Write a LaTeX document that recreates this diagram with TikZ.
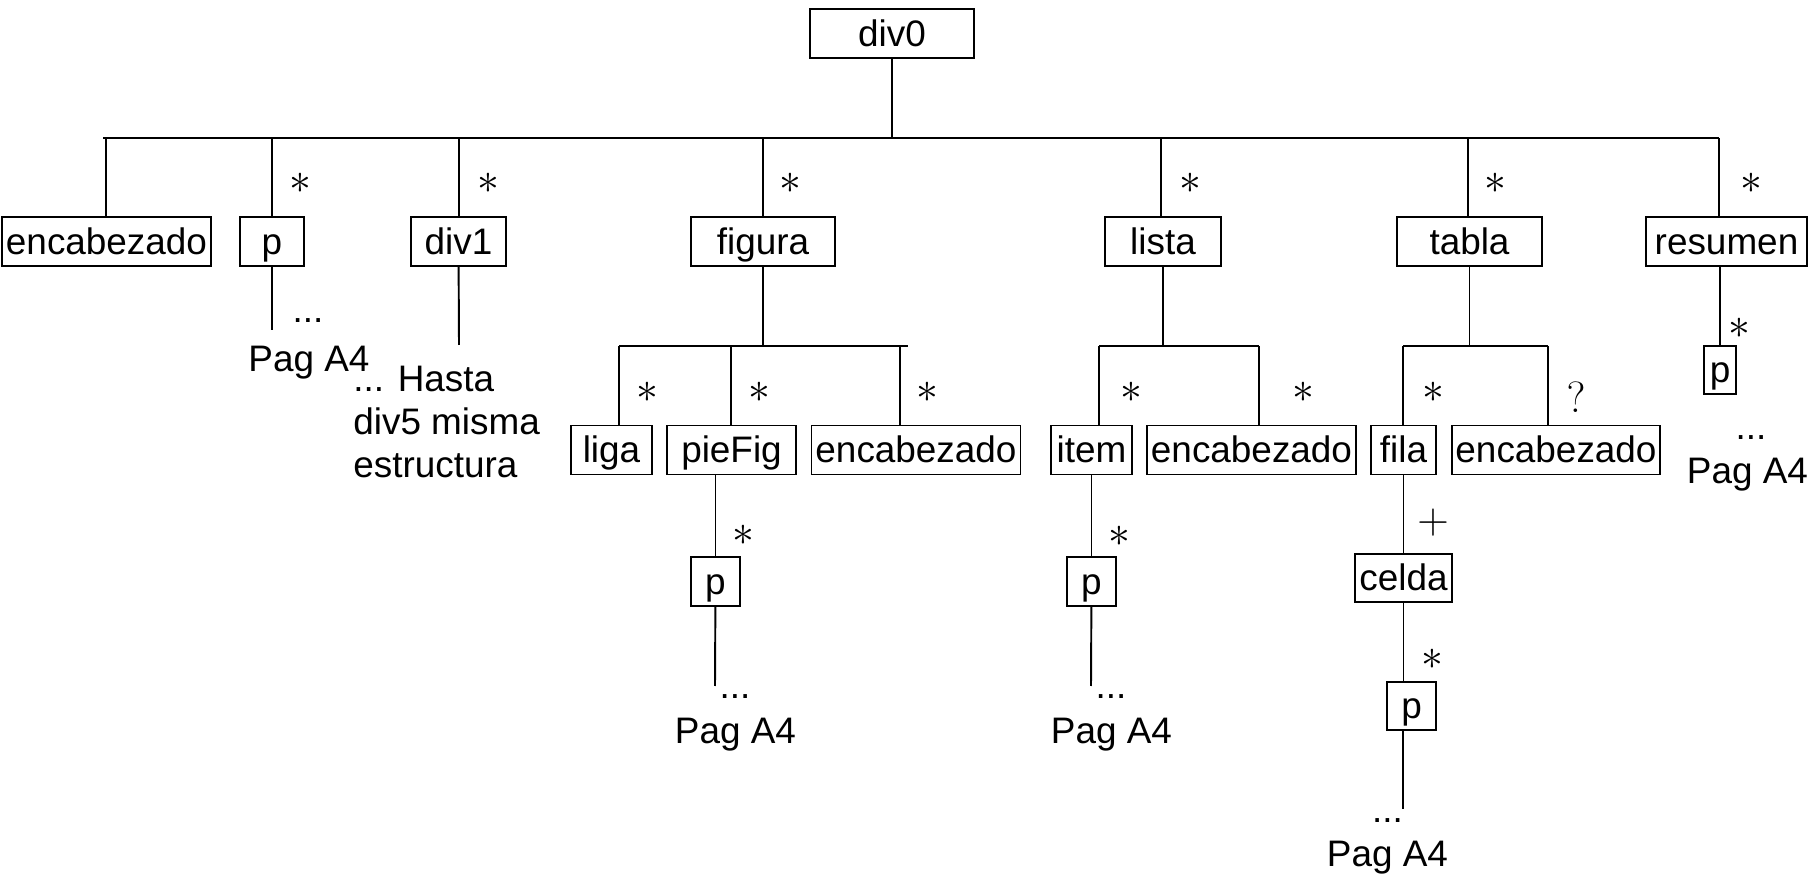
\documentclass[tikz,border=0pt]{standalone}
\usepackage{fontspec}
\setmainfont{Liberation Sans}
\usetikzlibrary{positioning,calc}

\begin{document}
\begin{tikzpicture}[x=0.02cm, y=-0.02cm,
        tag block/.style={rectangle, draw, line width=0.9pt, inner sep=0pt, minimum height=0.98cm, text height=0.6cm, text depth=0.08cm, font=\fontsize{21}{24}\selectfont},
        line/.style={draw, line width=1.1pt},
        mult/.style={inner sep=0pt, font=\fontsize{24}{26}\selectfont},
        note/.style={anchor=base, inner sep=0pt, font=\fontsize{21}{24.4}\selectfont}]
        \useasboundingbox (0,0) rectangle (1810,874);

        \node [tag block, minimum width=3.28cm] (div0) at (892,33.5) {div0};

        \node [tag block, minimum width=4.18cm] (enc1) at (106.5,241.5) {encabezado};
        \node [tag block, minimum width=1.28cm] (p1) at (272,241.5) {p};
        \node [tag block, minimum width=1.9cm] (div1) at (458.5,241.5) {div1};
        \node [tag block, minimum width=2.88cm] (figura) at (763,241.5) {figura};
        \node [tag block, minimum width=2.32cm] (lista) at (1163,241.5) {lista};
        \node [tag block, minimum width=2.9cm] (tabla) at (1469.5,241.5) {tabla};
        \node [tag block, minimum width=3.22cm] (resumen) at (1726.5,241.5) {resumen};

        \node [tag block, minimum width=1.62cm] (liga) at (611.5,450) {liga};
        \node [tag block, minimum width=2.58cm] (piefig) at (731.5,450) {pieFig};
        \node [tag block, minimum width=4.18cm] (enc2) at (916,450) {encabezado};
        \node [tag block, minimum width=1.62cm] (item) at (1091.5,450) {item};
        \node [tag block, minimum width=4.18cm] (enc3) at (1251.5,450) {encabezado};
        \node [tag block, minimum width=1.3cm] (fila) at (1403.5,450) {fila};
        \node [tag block, minimum width=4.16cm] (enc4) at (1556,450) {encabezado};

        \node [tag block, minimum width=0.98cm] (pfig) at (715.5,581.5) {p};
        \node [tag block, minimum width=0.98cm] (pitem) at (1091.5,581.5) {p};
        \node [tag block, minimum width=1.94cm, minimum height=0.96cm] (celda) at (1403.5,578) {celda};
        \node [tag block, minimum width=0.98cm, minimum height=0.96cm] (pcelda) at (1411.5,706) {p};
        \node [tag block, minimum width=0.64cm, minimum height=0.96cm] (pres) at (1720,370) {p};

        \coordinate (barL) at (103,138);
        \coordinate (barR) at (1719,138);
        \coordinate (b-enc1) at (106,138);
        \coordinate (b-p1) at (272,138);
        \coordinate (b-div1) at (459,138);
        \coordinate (b-figura) at (763,138);
        \coordinate (b-lista) at (1161,138);
        \coordinate (b-tabla) at (1468,138);
        \coordinate (b-resumen) at (1719,138);
        \path [line] (div0) -- (div0 |- barL);
        \path [line] (barL) -- (barR);
        \path [line] (b-enc1) -- (b-enc1 |- enc1.north);
        \path [line] (b-p1) -- (b-p1 |- p1.north);
        \path [line] (b-div1) -- (b-div1 |- div1.north);
        \path [line] (b-figura) -- (b-figura |- figura.north);
        \path [line] (b-lista) -- (b-lista |- lista.north);
        \path [line] (b-tabla) -- (b-tabla |- tabla.north);
        \path [line] (b-resumen) -- (b-resumen |- resumen.north);

        \coordinate (figL) at (619,346);
        \coordinate (figR) at (908,346);
        \coordinate (b-piefig) at (731,346);
        \coordinate (b-enc2) at (900,346);
        \path [line] (figura) -- (figura |- figL);
        \path [line] (figL) -- (figR);
        \path [line] (figL) -- (figL |- liga.north);
        \path [line] (b-piefig) -- (b-piefig |- piefig.north);
        \path [line] (b-enc2) -- (b-enc2 |- enc2.north);

        \coordinate (listL) at (1099,346);
        \coordinate (listR) at (1259,346);
        \path [line] (lista) -- (lista |- listL);
        \path [line] (listL) -- (listR);
        \path [line] (listL) -- (listL |- item.north);
        \path [line] (listR) -- (listR |- enc3.north);

        \coordinate (tabL) at (1403,346);
        \coordinate (tabR) at (1548,346);
        \path [line] (tabla) -- (tabla |- tabL);
        \path [line] (tabL) -- (tabR);
        \path [line] (tabL) -- (tabL |- fila.north);
        \path [line] (tabR) -- (tabR |- enc4.north);

        \coordinate (end-p1) at (272,330);
        \coordinate (end-div1) at (459,345);
        \coordinate (end-pfig) at (715,686);
        \coordinate (end-pitem) at (1091,686);
        \coordinate (end-pcelda) at (1403,809);
        \path [line] (p1) -- (end-p1);
        \path [line] (div1) -- (end-div1);
        \path [line] (pfig) -- (pfig |- piefig.south);
        \path [line] (pfig) -- (end-pfig);
        \path [line] (pitem) -- (pitem |- item.south);
        \path [line] (pitem) -- (end-pitem);
        \path [line] (fila) -- (celda);
        \path [line] (celda) -- (celda |- pcelda.north);
        \path [line] (end-pcelda |- pcelda.south) -- (end-pcelda);
        \path [line] (pres) -- (pres |- resumen.south);

        \node [mult] (m-p1) at (300,183) {$\ast$};
        \node [mult] (m-div1) at (488,183) {$\ast$};
        \node [mult] (m-figura) at (790,183) {$\ast$};
        \node [mult] (m-lista) at (1190,183) {$\ast$};
        \node [mult] (m-tabla) at (1495,183) {$\ast$};
        \node [mult] (m-resumen) at (1751,183) {$\ast$};
        \node [mult] (m-liga) at (647,392) {$\ast$};
        \node [mult] (m-piefig) at (759,392) {$\ast$};
        \node [mult] (m-enc2) at (927,392) {$\ast$};
        \node [mult] (m-item) at (1131,392) {$\ast$};
        \node [mult] (m-enc3) at (1303,392) {$\ast$};
        \node [mult] (m-fila) at (1433,392) {$\ast$};
        \node [mult] (m-enc4) at (1576,397) {$?$};
        \node [mult] (m-pfig) at (743,535) {$\ast$};
        \node [mult] (m-pitem) at (1119,536) {$\ast$};
        \node [mult] (m-celda) at (1433,523) {$+$};
        \node [mult] (m-pcelda) at (1432,659) {$\ast$};
        \node [mult] (m-pres) at (1739,328) {$\ast$};

        \node [note] (dots-p1) at (308,323) {...};
        \node [note] (pag-p1) at (309,372) {Pag A4};
        \node [note, anchor=north west, align=left] (hasta) at (353,366) {... Hasta\\div5 misma\\estructura};
        \node [note] (dots-pfig) at (735,699) {...};
        \node [note] (pag-pfig) at (735.5,744) {Pag A4};
        \node [note] (dots-pitem) at (1111,699) {...};
        \node [note] (pag-pitem) at (1111.5,744) {Pag A4};
        \node [note] (dots-pcelda) at (1387.5,823) {...};
        \node [note] (pag-pcelda) at (1387.5,867) {Pag A4};
        \node [note] (dots-pres) at (1751,440) {...};
        \node [note] (pag-pres) at (1747.5,484) {Pag A4};
    \end{tikzpicture}
\end{document}
